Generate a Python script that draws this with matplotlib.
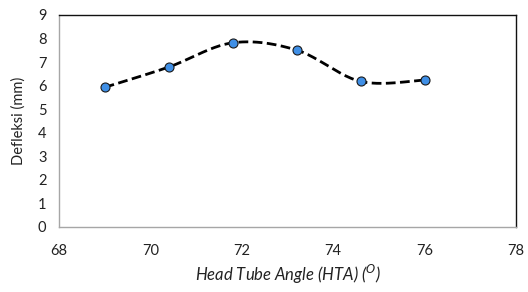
import matplotlib
matplotlib.use("Agg")
import matplotlib.pyplot as plt
import numpy as np

# data
hta = [69.0, 70.4, 71.8, 73.2, 74.6, 76.0]
defleksi = [5.93, 6.79, 7.82, 7.51, 6.18, 6.24]
x_ticks = [68, 70, 72, 74, 76, 78]
y_ticks = list(range(0, 10))


def smooth_path(x, y, n=40):
    # Excel-like smoothed line: cubic Bezier segments with Catmull-Rom controls
    x = np.asarray(x, float)
    y = np.asarray(y, float)
    px = np.concatenate([[x[0]], x, [x[-1]]])
    py = np.concatenate([[y[0]], y, [y[-1]]])
    xs, ys = [], []
    t = np.linspace(0, 1, n)
    for i in range(1, len(x)):
        p0 = np.array([px[i], py[i]])
        p3 = np.array([px[i + 1], py[i + 1]])
        c1 = p0 + (np.array([px[i + 1], py[i + 1]]) - np.array([px[i - 1], py[i - 1]])) / 6
        c2 = p3 - (np.array([px[i + 2], py[i + 2]]) - np.array([px[i], py[i]])) / 6
        b = ((1 - t) ** 3)[:, None] * p0 + (3 * (1 - t) ** 2 * t)[:, None] * c1 \
            + (3 * (1 - t) * t ** 2)[:, None] * c2 + (t ** 3)[:, None] * p3
        xs.extend(b[:, 0])
        ys.extend(b[:, 1])
    return xs, ys


plt.rcParams["font.family"] = ["Lato", "DejaVu Sans"]

fig = plt.figure(figsize=(5.28, 2.92), dpi=100)
ax = fig.add_axes([59 / 528, 1 - 227 / 292, (516 - 59) / 528, (227 - 15) / 292])

sx, sy = smooth_path(hta, defleksi)
ax.plot(sx, sy, ls=(0, (3.5, 1.6)), color="black", lw=2.0, zorder=2)
ax.plot(hta, defleksi, ls="none", marker="o", ms=6.5, mfc="#3f8fe6",
        mec="#1a1a1a", mew=0.8, zorder=3)

ax.set_xlim(68, 78)
ax.set_ylim(0, 9)
ax.set_xticks(x_ticks)
ax.set_yticks(y_ticks)
ax.tick_params(length=0, labelsize=10.5, colors="#222222")
ax.tick_params(axis="y", pad=9)
ax.tick_params(axis="x", pad=12)

for side in ("left", "bottom"):
    ax.spines[side].set_color("#a6a6a6")
    ax.spines[side].set_linewidth(1.0)
for side in ("top", "right"):
    ax.spines[side].set_color("#111111")
    ax.spines[side].set_linewidth(1.0)

ax.set_ylabel("Defleksi (mm)", fontsize=10.5, color="#222222", labelpad=9)
ax.set_xlabel(r"Head Tube Angle (HTA) ($^{\mathit{O}}$)", fontsize=12,
              style="italic", color="#222222", labelpad=4)

fig.savefig("out.png", dpi=100)
